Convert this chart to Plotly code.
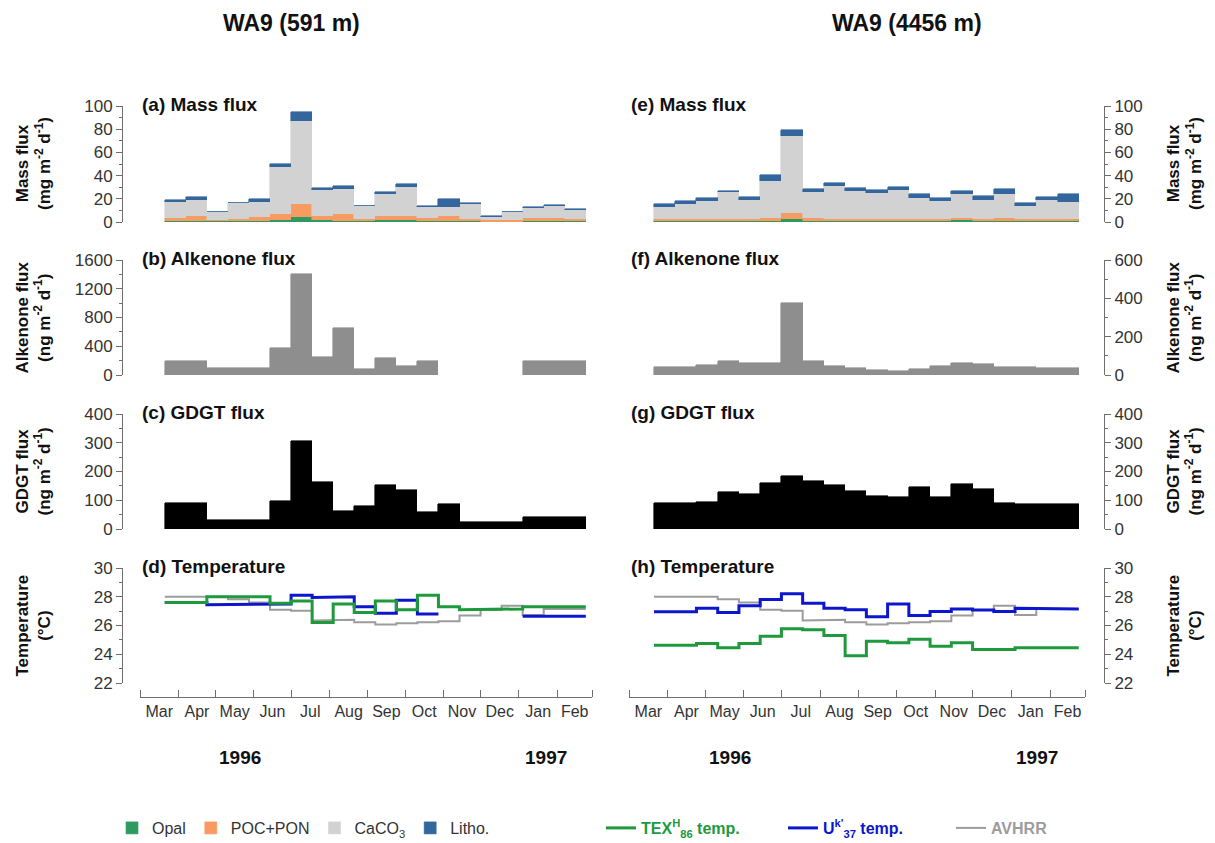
import plotly.graph_objects as go

# ---------------- data ----------------
period_start = ["1996-03-21", "1996-04-07", "1996-04-24", "1996-05-11", "1996-05-28",
                "1996-06-14", "1996-07-01", "1996-07-18", "1996-08-04", "1996-08-21",
                "1996-09-07", "1996-09-24", "1996-10-11", "1996-10-28", "1996-11-14",
                "1996-12-01", "1996-12-18", "1997-01-04", "1997-01-21", "1997-02-07"]
period_end = ["1996-04-07", "1996-04-24", "1996-05-11", "1996-05-28", "1996-06-14",
              "1996-07-01", "1996-07-18", "1996-08-04", "1996-08-21", "1996-09-07",
              "1996-09-24", "1996-10-11", "1996-10-28", "1996-11-14", "1996-12-01",
              "1996-12-18", "1997-01-04", "1997-01-21", "1997-02-07", "1997-02-24"]
cup_days = 17

# WA9 591 m
opal_591 = [1.0, 1.0, 0.5, 1.0, 1.0, 1.5, 4.0, 2.0, 1.0, 0.5, 1.5, 1.5, 1.0, 1.0, 0.5, 0.3, 0.3, 1.0, 1.0, 0.8]
poc_591 = [2.5, 3.9, 1.3, 1.5, 3.3, 5.1, 11.5, 3.0, 6.2, 2.0, 3.5, 4.0, 2.5, 4.5, 2.5, 1.7, 1.7, 2.5, 2.5, 2.2]
caco3_591 = [13.5, 14.4, 6.5, 13.7, 13.2, 40.4, 71.5, 22.4, 21.6, 11.2, 19.4, 25.0, 9.2, 7.5, 12.8, 2.6, 6.5, 8.5, 10.5, 7.7]
litho_591 = [2.0, 2.0, 0.3, 0.5, 2.5, 3.0, 7.5, 2.0, 2.0, 0.3, 1.2, 2.5, 0.8, 6.6, 0.6, 0.4, 0.5, 1.0, 1.0, 0.5]
alkenone_591 = [200, 200, 100, 100, 100, 370, 1400, 255, 650, 78, 232, 120, 200, None, None, None, None, 200, 200, 200]
gdgt_591 = [90, 90, 30, 30, 30, 96, 305, 162, 64, 80, 154, 134, 59, 87, 23, 23, 23, 41, 41, 41]
tex_591 = [27.6, 27.6, 28.0, 28.0, 28.0, 27.55, 27.7, 26.2, 27.5, 26.9, 27.7, 27.1, 28.1, 27.3, 27.1, 27.1, 27.15, 27.3, 27.3, 27.3]
uk37_591 = [27.6, 27.6, 27.45, 27.45, 27.45, 27.5, 28.1, 27.95, 28.0, 27.3, 26.85, 27.75, 26.8, None, None, None, None, 26.65, 26.65, 26.65]

# WA9 4456 m
opal_4456 = [0.8, 0.8, 0.8, 0.8, 0.8, 1.0, 3.0, 1.0, 0.8, 0.8, 0.8, 0.8, 0.8, 0.8, 1.4, 0.8, 1.2, 0.8, 0.8, 0.8]
poc_4456 = [1.8, 1.8, 1.8, 1.8, 1.8, 2.2, 5.0, 2.2, 1.8, 1.8, 1.8, 1.8, 1.8, 1.8, 1.8, 1.8, 2.4, 1.8, 1.8, 1.8]
caco3_4456 = [10.2, 12.8, 15.4, 23.1, 16.5, 32.4, 65.8, 23.0, 28.8, 24.1, 22.6, 24.8, 18.4, 15.4, 21.2, 16.4, 20.8, 10.8, 16.4, 14.7]
litho_4456 = [2.6, 2.6, 2.6, 1.0, 2.6, 5.0, 5.2, 2.5, 2.6, 2.6, 2.6, 2.6, 3.0, 2.6, 2.6, 3.0, 4.3, 2.6, 2.5, 7.0]
alkenone_4456 = [43, 43, 52, 71, 61, 61, 374, 71, 47, 38, 24, 22, 31, 45, 62, 55, 43, 40, 38, 38]
gdgt_4456 = [92, 92, 95, 129, 123, 160, 183, 166, 153, 131, 115, 110, 145, 111, 155, 138, 92, 86, 86, 86]
tex_4456 = [24.63, 24.63, 24.74, 24.45, 24.74, 25.26, 25.77, 25.7, 25.3, 23.9, 24.9, 24.8, 25.04, 24.56, 24.8, 24.33, 24.33, 24.45, 24.45, 24.45]
uk37_4456 = [26.96, 26.96, 27.2, 26.9, 27.37, 27.8, 28.2, 27.55, 27.2, 27.1, 26.6, 27.5, 26.7, 26.98, 27.15, 27.07, 26.98, 27.2, 27.2, 27.15]

# satellite SST (same site)
avhrr = [28.0, 28.0, 28.0, 27.83, 27.6, 27.1, 27.03, 26.35, 26.4, 26.23, 26.07, 26.16, 26.23, 26.3, 26.7, 27.07, 27.37, 26.73, 27.15, 27.15]

month_ticks_range = ["1996-03-01", "1997-03-01"]
years = ["1996", "1997"]
station_titles = ["WA9 (591 m)", "WA9 (4456 m)"]

# ---------------- styling ----------------
W, H = 1215, 843
FONT = "Liberation Sans, Arial, sans-serif"
C_OPAL = "#2f9a5f"
C_POC = "#f79b63"
C_CACO3 = "#d2d2d2"
C_LITHO = "#33669c"
C_ALK = "#8e8e8e"
C_GDGT = "#000000"
C_TEX = "#1e9a3c"
C_UK = "#0c16cc"
C_AV = "#9c9c9c"
AXC = "#6e6e6e"

def fx(px):  # pixel -> paper fraction
    return px / W

def fy(py):
    return 1 - py / H

bar_w = cup_days * 86400000

def step_xy(vals):
    xs, ys = [], []
    prev = False
    for s, e, v in zip(period_start, period_end, vals):
        if v is None:
            if prev:
                xs.append(None); ys.append(None)
            prev = False
            continue
        xs += [s, e]
        ys += [v, v]
        prev = True
    return xs, ys

fig = go.Figure()

cols = [
    dict(n=0, xdom=[fx(140), fx(592)], ypos=fx(122), side="left",
         opal=opal_591, poc=poc_591, caco3=caco3_591, litho=litho_591,
         alk=alkenone_591, gdgt=gdgt_591, tex=tex_591, uk=uk37_591,
         alk_range=[0, 1600], alk_dtick=400, alk_minor=200, labels="abcd"),
    dict(n=1, xdom=[fx(629), fx(1085)], ypos=fx(1104), side="right",
         opal=opal_4456, poc=poc_4456, caco3=caco3_4456, litho=litho_4456,
         alk=alkenone_4456, gdgt=gdgt_4456, tex=tex_4456, uk=uk37_4456,
         alk_range=[0, 600], alk_dtick=200, alk_minor=100, labels="efgh"),
]

rows = [(106, 222), (260, 375), (414, 529), (568, 683)]

layout_axes = {}
annotations = []
titles = ["Mass flux", "Alkenone flux", "GDGT flux", "Temperature"]
ytitles = ["Mass flux<br>(mg m<sup>-2</sup> d<sup>-1</sup>)",
           "Alkenone flux<br>(ng m<sup>-2</sup> d<sup>-1</sup>)",
           "GDGT flux<br>(ng m<sup>-2</sup> d<sup>-1</sup>)",
           "Temperature<br>(°C)"]

for c in cols:
    for r in range(4):
        idx = c["n"] * 4 + r + 1
        xname = "x" if idx == 1 else f"x{idx}"
        yname = "y" if idx == 1 else f"y{idx}"
        xkey = "xaxis" if idx == 1 else f"xaxis{idx}"
        ykey = "yaxis" if idx == 1 else f"yaxis{idx}"
        top, bot = rows[r]
        xa = dict(domain=c["xdom"], type="date", range=month_ticks_range,
                  showgrid=False, zeroline=False, automargin=False)
        if r == 3:
            xa.update(anchor="free", position=fy(697), showline=True, linecolor=AXC,
                      linewidth=1, ticks="inside", ticklen=7, tickcolor=AXC,
                      tickmode="linear", tick0="1996-03-01", dtick="M1",
                      ticklabelmode="period", tickformat="%b",
                      tickfont=dict(size=16, color="#333333", family=FONT))
        else:
            xa.update(anchor=yname, showline=False, showticklabels=False, ticks="")
        layout_axes[xkey] = xa

        ya = dict(domain=[fy(bot), fy(top)], anchor="free", position=c["ypos"],
                  side=c["side"], showline=True, linecolor=AXC, linewidth=1,
                  ticks="outside", ticklen=6, tickcolor=AXC, showgrid=False, zeroline=False,
                  automargin=False,
                  tickfont=dict(size=17, color="#333333", family=FONT))
        mn = dict(ticks="outside", ticklen=3, tickcolor=AXC)
        if r == 0:
            ya.update(range=[0, 100], dtick=20, minor=dict(dtick=10, **mn))
        elif r == 1:
            ya.update(range=c["alk_range"], dtick=c["alk_dtick"], minor=dict(dtick=c["alk_minor"], **mn))
        elif r == 2:
            ya.update(range=[0, 400], dtick=100, minor=dict(dtick=50, **mn))
        else:
            ya.update(range=[22, 30], dtick=2, minor=dict(dtick=1, **mn))
        layout_axes[ykey] = ya

        show = c["n"] == 0
        if r == 0:
            for k, (name, vals, col) in enumerate([("Opal", c["opal"], C_OPAL), ("POC+PON", c["poc"], C_POC),
                                    ("CaCO<sub>3</sub>", c["caco3"], C_CACO3), ("Litho.", c["litho"], C_LITHO)]):
                fig.add_trace(go.Bar(x=period_start, y=vals, width=bar_w, offset=0,
                                     marker=dict(color=col, line=dict(width=0.6, color=col)),
                                     name=name, showlegend=show, legend="legend",
                                     legendrank=k + 1,
                                     xaxis=xname, yaxis=yname))
        elif r == 1:
            fig.add_trace(go.Bar(x=period_start, y=c["alk"], width=bar_w, offset=0,
                                 marker=dict(color=C_ALK, line=dict(width=0.6, color=C_ALK)),
                                 showlegend=False, xaxis=xname, yaxis=yname))
        elif r == 2:
            fig.add_trace(go.Bar(x=period_start, y=c["gdgt"], width=bar_w, offset=0,
                                 marker=dict(color=C_GDGT, line=dict(width=0.6, color=C_GDGT)),
                                 showlegend=False, xaxis=xname, yaxis=yname))
        else:
            for name, vals, col, lw, lg in [
                ("<b><span style='color:%s'>AVHRR</span></b>" % C_AV, avhrr, C_AV, 2, "legend4"),
                ("<b><span style='color:%s'>U<sup>k'</sup><sub>37</sub> temp.</span></b>" % C_UK, c["uk"], C_UK, 3, "legend3"),
                ("<b><span style='color:%s'>TEX<sup>H</sup><sub>86</sub> temp.</span></b>" % C_TEX, c["tex"], C_TEX, 3, "legend2"),
            ]:
                xs, ys = step_xy(vals)
                fig.add_trace(go.Scatter(x=xs, y=ys, mode="lines", line=dict(color=col, width=lw),
                                         name=name, showlegend=show, legend=lg,
                                         xaxis=xname, yaxis=yname))

        lx = 140 if c["n"] == 0 else 629
        annotations.append(dict(text=f"<b>({c['labels'][r]}) {titles[r]}</b>", x=fx(lx), y=fy(top - 2),
                                xref="paper", yref="paper", xanchor="left", yanchor="middle",
                                showarrow=False, font=dict(size=19, color="#111111", family=FONT)))
        tx = 33 if c["n"] == 0 else 1184
        annotations.append(dict(text=f"<b>{ytitles[r]}</b>", x=fx(tx), y=fy((top + bot) / 2),
                                xref="paper", yref="paper", xanchor="center", yanchor="middle",
                                textangle=-90, showarrow=False,
                                font=dict(size=17, color="#111111", family=FONT)))

for t, xc in zip(station_titles, [291, 907]):
    annotations.append(dict(text=f"<b>{t}</b>", x=fx(xc), y=fy(23), xref="paper", yref="paper",
                            xanchor="center", yanchor="middle", showarrow=False,
                            font=dict(size=23, color="#111111", family=FONT)))
for xc, yr in zip([240, 546, 730, 1037], years * 2):
    annotations.append(dict(text=f"<b>{yr}</b>", x=fx(xc), y=fy(757), xref="paper", yref="paper",
                            xanchor="center", yanchor="middle", showarrow=False,
                            font=dict(size=19, color="#111111", family=FONT)))

leg_common = dict(orientation="h", y=fy(828), xanchor="left", yanchor="middle",
                  font=dict(size=16, color="#333333", family=FONT),
                  itemwidth=30, bgcolor="rgba(0,0,0,0)")

fig.update_layout(
    width=W, height=H, margin=dict(l=0, r=0, t=0, b=0, pad=0, autoexpand=False),
    paper_bgcolor="white", plot_bgcolor="white",
    barmode="stack", bargap=0,
    font=dict(family=FONT, color="#333333"),
    annotations=annotations,
    legend=dict(x=fx(112), traceorder="normal", **leg_common),
    legend2=dict(x=fx(601), **leg_common),
    legend3=dict(x=fx(783), **leg_common),
    legend4=dict(x=fx(951), **leg_common),
    **layout_axes,
)

fig.write_html("out.html", config={"displayModeBar": False},
               post_script="document.body.style.margin='0px';")
